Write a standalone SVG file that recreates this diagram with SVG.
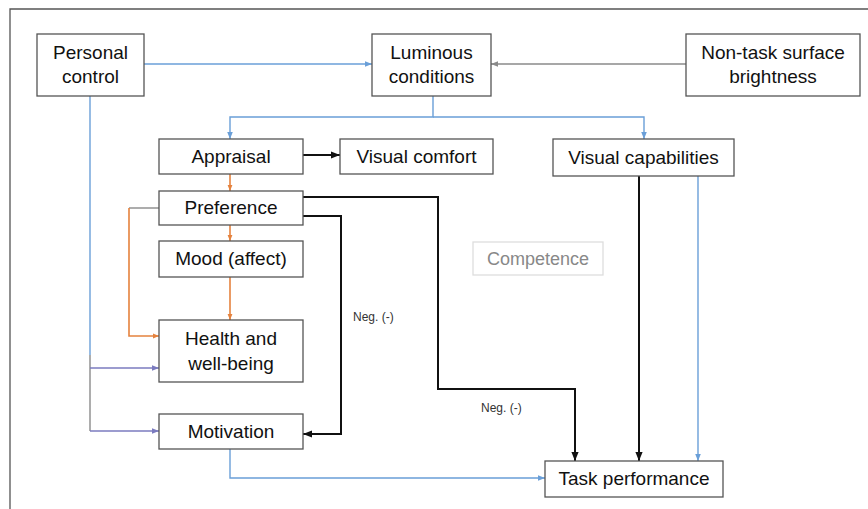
<svg xmlns="http://www.w3.org/2000/svg" width="868" height="509" viewBox="0 0 868 509">
<style>
.box{fill:#fff;stroke:#555;stroke-width:1.3}
.t{font-family:"Liberation Sans",Arial,sans-serif;font-size:19px;fill:#111;text-anchor:middle}
.s{font-family:"Liberation Sans",Arial,sans-serif;font-size:12px;fill:#333}
.blue{fill:none;stroke:#6a9fd8;stroke-width:1.4}
.gray{fill:none;stroke:#8a8a8a;stroke-width:1.4}
.purple{fill:none;stroke:#7b7bbf;stroke-width:1.4}
.orange{fill:none;stroke:#e5823e;stroke-width:1.6}
.black{fill:none;stroke:#111;stroke-width:2}
</style>
<defs>
<marker id="ab" viewBox="0 0 10 10" refX="10" refY="5" markerWidth="7" markerHeight="7" orient="auto" markerUnits="userSpaceOnUse"><path d="M0,1 L10,5 L0,9 z" fill="#6a9fd8"/></marker>
<marker id="ag" viewBox="0 0 10 10" refX="10" refY="5" markerWidth="7" markerHeight="7" orient="auto" markerUnits="userSpaceOnUse"><path d="M0,1 L10,5 L0,9 z" fill="#8a8a8a"/></marker>
<marker id="ap" viewBox="0 0 10 10" refX="10" refY="5" markerWidth="7" markerHeight="7" orient="auto" markerUnits="userSpaceOnUse"><path d="M0,1 L10,5 L0,9 z" fill="#7b7bbf"/></marker>
<marker id="ao" viewBox="0 0 10 10" refX="10" refY="5" markerWidth="6" markerHeight="6" orient="auto" markerUnits="userSpaceOnUse"><path d="M0,1 L10,5 L0,9 z" fill="#e5823e"/></marker>
<marker id="ak" viewBox="0 0 10 10" refX="10" refY="5" markerWidth="9" markerHeight="9" orient="auto" markerUnits="userSpaceOnUse"><path d="M0,1 L10,5 L0,9 z" fill="#111"/></marker>
</defs>
<rect width="868" height="509" fill="#fff"/>
<path d="M10,509 V9 H868" fill="none" stroke="#555" stroke-width="1.3"/>

<g id="connectors">
<path class="blue" d="M144,64 H372" marker-end="url(#ab)"/>
<path class="gray" d="M686,64 H491" marker-end="url(#ag)"/>
<path class="blue" d="M433,96 V117 H230 V139" marker-end="url(#ab)"/>
<path class="blue" d="M433,117 H644 V139" marker-end="url(#ab)"/>
<path class="black" d="M303,155 H340" marker-end="url(#ak)"/>
<path class="orange" d="M230,174 V191" marker-end="url(#ao)"/>
<path class="orange" d="M230,225 V241" marker-end="url(#ao)"/>
<path class="orange" d="M230,277 V320" marker-end="url(#ao)"/>
<path class="gray" d="M159,208 H129"/>
<path class="orange" d="M129,208 V336 H159" marker-end="url(#ao)"/>
<path class="blue" d="M90,96 V355"/>
<path class="gray" d="M90,355 V431"/>
<path class="purple" d="M90,368 H159" marker-end="url(#ap)"/>
<path class="purple" d="M90,431 H159" marker-end="url(#ap)"/>
<path class="black" d="M303,197 H438 V389 H575 V461" marker-end="url(#ak)"/>
<path class="black" d="M303,216 H341 V434 H303" marker-end="url(#ak)"/>
<path class="black" d="M639,176 V461" marker-end="url(#ak)"/>
<path class="blue" d="M698,176 V461" marker-end="url(#ab)"/>
<path class="blue" d="M230,449 V478 H545" marker-end="url(#ab)"/>
<text class="s" x="353" y="321">Neg. (-)</text>
<text class="s" x="481" y="412">Neg. (-)</text>
</g>

<g id="personal-control"><rect class="box" x="37" y="34" width="107" height="62"/><text class="t" x="90.5" y="59">Personal</text><text class="t" x="90.5" y="83">control</text></g>
<g id="luminous-conditions"><rect class="box" x="372" y="34" width="119" height="62"/><text class="t" x="431.5" y="59">Luminous</text><text class="t" x="431.5" y="83">conditions</text></g>
<g id="non-task"><rect class="box" x="686" y="34" width="174" height="62"/><text class="t" x="773" y="59">Non-task surface</text><text class="t" x="773" y="83">brightness</text></g>
<g id="appraisal"><rect class="box" x="159" y="139" width="144" height="35"/><text class="t" x="231" y="163">Appraisal</text></g>
<g id="visual-comfort"><rect class="box" x="340" y="139" width="153" height="35"/><text class="t" x="416.5" y="163">Visual comfort</text></g>
<g id="visual-capabilities"><rect class="box" x="553" y="139" width="181" height="37"/><text class="t" x="643.5" y="164">Visual capabilities</text></g>
<g id="preference"><rect class="box" x="159" y="191" width="144" height="34"/><text class="t" x="231" y="214">Preference</text></g>
<g id="mood"><rect class="box" x="159" y="241" width="144" height="36"/><text class="t" x="231" y="265">Mood (affect)</text></g>
<g id="competence"><rect x="473" y="242" width="130" height="33" fill="#fff" stroke="#ddd" stroke-width="1.3"/><text class="t" x="538" y="265" style="fill:#888;font-size:18px">Competence</text></g>
<g id="health"><rect class="box" x="159" y="320" width="144" height="62"/><text class="t" x="231" y="345">Health and</text><text class="t" x="231" y="370">well-being</text></g>
<g id="motivation"><rect class="box" x="159" y="414" width="144" height="35"/><text class="t" x="231" y="438">Motivation</text></g>
<g id="task-performance"><rect class="box" x="545" y="461" width="178" height="36"/><text class="t" x="634" y="485">Task performance</text></g>
</svg>
